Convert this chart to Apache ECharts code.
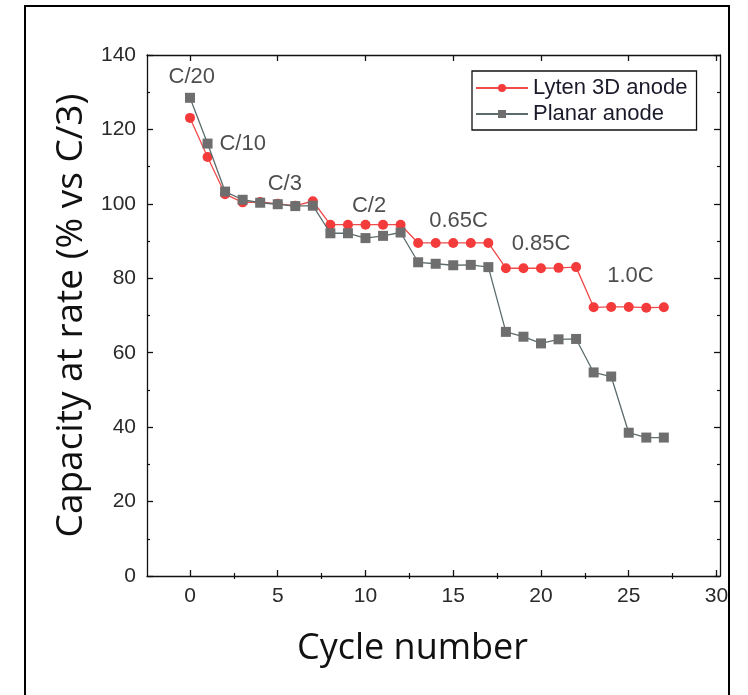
<!DOCTYPE html>
<html>
<head>
<meta charset="utf-8">
<script src="https://cdn.jsdelivr.net/npm/echarts@6/dist/echarts.min.js"></script>
<style>html,body{margin:0;padding:0;background:#fff}#c{width:748px;height:695px}</style>
</head>
<body>
<div id="c"></div>
<script>
const cycles = [0,1,2,3,4,5,6,7,8,9,10,11,12,13,14,15,16,17,18,19,20,21,22,23,24,25,26,27];
const lyten = [123.1,112.6,102.6,100.4,100.5,100.0,99.5,100.7,94.4,94.4,94.4,94.4,94.4,89.5,89.5,89.5,89.5,89.5,82.7,82.7,82.7,82.8,83.0,72.2,72.3,72.3,72.1,72.2];
const planar = [128.5,116.2,103.3,101.1,100.3,99.9,99.4,99.5,92.1,92.1,90.8,91.4,92.3,84.3,83.9,83.5,83.6,83.0,65.6,64.3,62.5,63.6,63.7,54.7,53.6,38.5,37.2,37.2];
const rateLabels = ['C/20','C/10','C/3','C/2','0.65C','0.85C','1.0C'];
const rateLabelX = [0.1,3.0,5.4,10.2,15.3,20.0,25.1];
const rateLabelY = [134.0,116.2,105.4,99.5,95.4,89.3,80.7];
const xMajor = [0,5,10,15,20,25,30];
const xMinor = [2.5,7.5,12.5,17.5,22.5,27.5];

const chart = echarts.init(document.getElementById('c'), null, {renderer:'canvas'});
const tickFont = {fontFamily:'Liberation Sans, Arial, sans-serif', fontSize:21, color:'#2a2a2a'};
const lineBlack = {show:true, onZero:false, lineStyle:{color:'#111', width:1.3}};
const xBase = {type:'value', min:-2.45, max:30.2, splitLine:{show:false}, axisLine:lineBlack};
const yBase = {type:'value', min:0, max:140, interval:20, splitLine:{show:false}, axisLine:lineBlack};

chart.setOption({
  animation:false,
  backgroundColor:'#fff',
  grid:{left:147, right:28, top:55, bottom:119, containLabel:false},
  graphic:[{type:'rect', shape:{x:25, y:6, width:704, height:700}, style:{fill:'none', stroke:'#000', lineWidth:2}, silent:true}],
  legend:{
    data:['Lyten 3D anode','Planar anode'],
    orient:'vertical', left:472, top:71,
    borderColor:'#111', borderWidth:1.3, borderRadius:0,
    padding:[6,9,5,3], itemGap:4, itemWidth:52, itemHeight:10,
    textStyle:{fontFamily:'Liberation Sans, Arial, sans-serif', fontSize:22, color:'#1a1a2a'}
  },
  xAxis:[
    Object.assign({}, xBase, {position:'bottom',
      name:'Cycle number', nameLocation:'middle', nameGap:55,
      nameTextStyle:{fontFamily:'Open Sans, Noto Sans, sans-serif', fontSize:36, color:'#111', padding:[0,42,0,0]},
      axisTick:{show:true, inside:true, length:6, customValues:xMajor, lineStyle:{color:'#111', width:1.3}},
      axisLabel:Object.assign({customValues:xMajor, margin:10}, tickFont)}),
    Object.assign({}, xBase, {position:'bottom', axisLine:{show:false},
      axisTick:{show:true, inside:true, length:3, customValues:xMinor, lineStyle:{color:'#111', width:1.2}},
      axisLabel:{show:false}}),
    Object.assign({}, xBase, {position:'top',
      axisTick:{show:true, inside:true, length:6, customValues:xMajor, lineStyle:{color:'#111', width:1.3}},
      axisLabel:{show:false}}),
    Object.assign({}, xBase, {position:'top', axisLine:{show:false},
      axisTick:{show:true, inside:true, length:3, customValues:xMinor, lineStyle:{color:'#111', width:1.2}},
      axisLabel:{show:false}})
  ],
  yAxis:[
    Object.assign({}, yBase, {position:'left',
      name:'Capacity at rate (% vs C/3)', nameLocation:'middle', nameGap:52,
      nameTextStyle:{fontFamily:'Open Sans, Noto Sans, sans-serif', fontSize:37, color:'#111'},
      axisTick:{show:true, inside:true, length:6, lineStyle:{color:'#111', width:1.3}},
      minorTick:{show:true, splitNumber:2, length:3, lineStyle:{color:'#111', width:1.2}},
      axisLabel:Object.assign({margin:11}, tickFont)}),
    Object.assign({}, yBase, {position:'right',
      axisTick:{show:true, inside:true, length:6, lineStyle:{color:'#111', width:1.3}},
      minorTick:{show:true, splitNumber:2, length:3, lineStyle:{color:'#111', width:1.2}},
      axisLabel:{show:false}})
  ],
  series:[
    {name:'Lyten 3D anode', type:'line', xAxisIndex:0, yAxisIndex:0,
     data:cycles.map((c,i)=>[c,lyten[i]]),
     symbol:'circle', symbolSize:10,
     itemStyle:{color:'#f43b3b'}, lineStyle:{color:'#f04a4a', width:1.3}, z:3},
    {name:'Planar anode', type:'line', xAxisIndex:0, yAxisIndex:0,
     data:cycles.map((c,i)=>[c,planar[i]]),
     symbol:'rect', symbolSize:10,
     itemStyle:{color:'#6e6e6e'}, lineStyle:{color:'#5c6c6c', width:1.3}, z:4},
    {name:'rates', type:'scatter', xAxisIndex:0, yAxisIndex:0, silent:true,
     symbolSize:0,
     data:rateLabels.map((t,i)=>({value:[rateLabelX[i], rateLabelY[i]], name:t})),
     label:{show:true, position:'inside', formatter:p=>p.name,
       fontFamily:'Liberation Sans, Arial, sans-serif', fontSize:22, letterSpacing:1, color:'#222'}, z:5}
  ]
});
</script>
</body>
</html>
